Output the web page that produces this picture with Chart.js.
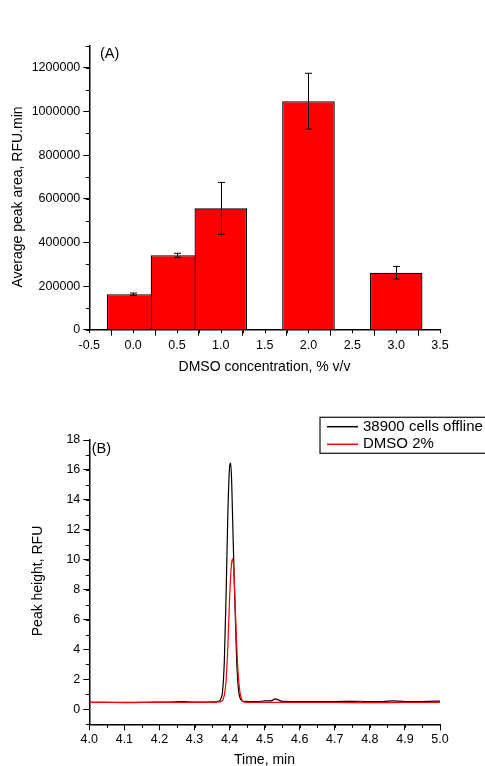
<!DOCTYPE html>
<html><head><meta charset="utf-8">
<script src="https://cdn.jsdelivr.net/npm/chart.js@4"></script>
<style>
html,body{margin:0;padding:0;background:#fff;}
#wrap{position:relative;width:485px;height:766px;overflow:hidden;background:#fff;}
canvas{position:absolute;left:0;}
#cA{top:0}
#cB{top:385px}
</style></head><body>
<div id="wrap"><canvas id="cA" width="485" height="385"></canvas><canvas id="cB" width="485" height="381"></canvas></div>
<script>
// ---------- Panel (A) data ----------
const dmsoConcentrations = [0.0, 0.5, 1.0, 2.0, 3.0];
const avgPeakAreas = [163000, 341000, 556000, 1047000, 261000];
const peakAreaErrors = [5000, 9000, 119000, 128000, 29000];
const xTicksA = [-0.5, 0, 0.5, 1.0, 1.5, 2.0, 2.5, 3.0, 3.5];
const yTicksA = [0, 200000, 400000, 600000, 800000, 1000000, 1200000];

// ---------- Panel (B) data ----------
const seriesLabels = ['38900 cells offline', 'DMSO 2%'];
const timesOffline = [4.00,4.03,4.06,4.10,4.13,4.16,4.20,4.23,4.26,4.28,4.30,4.33,4.36,4.37,4.375,4.38,4.385,4.39,4.395,4.40,4.403,4.406,4.41,4.415,4.42,4.425,4.43,4.435,4.44,4.46,4.48,4.50,4.52,4.53,4.54,4.55,4.58,4.62,4.66,4.70,4.74,4.77,4.80,4.83,4.86,4.88,4.91,4.94,4.97,5.00];
const heightsOffline = [0.47,0.46,0.46,0.46,0.47,0.47,0.48,0.49,0.52,0.50,0.49,0.49,0.50,0.55,0.7,1.2,3.2,7.6,13.0,16.2,16.45,15.2,11.5,7.3,3.4,1.4,0.75,0.58,0.53,0.52,0.52,0.56,0.58,0.70,0.62,0.53,0.52,0.51,0.52,0.52,0.53,0.54,0.51,0.51,0.56,0.55,0.52,0.52,0.53,0.55];
const timesDmso = [4.00,4.05,4.10,4.15,4.20,4.25,4.30,4.35,4.37,4.38,4.385,4.39,4.395,4.40,4.405,4.408,4.411,4.415,4.42,4.425,4.43,4.435,4.44,4.45,4.50,4.55,4.60,4.70,4.80,4.90,5.00];
const heightsDmso = [0.47,0.46,0.45,0.46,0.46,0.47,0.47,0.47,0.50,0.60,0.95,1.9,4.2,7.4,9.6,10.05,9.7,7.6,4.4,2.2,1.1,0.65,0.50,0.47,0.46,0.46,0.46,0.46,0.45,0.46,0.46];
const xTicksB = [4.0, 4.1, 4.2, 4.3, 4.4, 4.5, 4.6, 4.7, 4.8, 4.9, 5.0];
const yTicksB = [0, 2, 4, 6, 8, 10, 12, 14, 16, 18];

const FONT = "'Liberation Sans', Arial, sans-serif";
Chart.defaults.font.family = FONT;
Chart.defaults.color = '#000';

// ---------- plugins ----------
const minorTicks = {
  id: 'minorTicks',
  afterDraw(chart, args, opts) {
    const ctx = chart.ctx;
    ctx.save();
    ctx.strokeStyle = '#000';
    ctx.lineWidth = 1;
    const axes = opts.axes || {};
    for (const id of Object.keys(axes)) {
      const s = chart.scales[id];
      const step = axes[id];
      const n = Math.round((s.max - s.min) / step);
      for (let k = 0; k <= n; k++) {
        const p = Math.round(s.getPixelForValue(s.min + k * step)) + 0.5;
        ctx.beginPath();
        if (s.isHorizontal()) { ctx.moveTo(p, s.top); ctx.lineTo(p, s.top + opts.length); }
        else { ctx.moveTo(s.right, p); ctx.lineTo(s.right - opts.length, p); }
        ctx.stroke();
      }
    }
    ctx.restore();
  }
};

const texts = {
  id: 'texts',
  afterDraw(chart, args, opts) {
    const ctx = chart.ctx;
    for (const t of (opts.items || [])) {
      ctx.save();
      ctx.fillStyle = '#000';
      ctx.font = t.font;
      ctx.textAlign = t.align || 'center';
      ctx.textBaseline = 'middle';
      ctx.translate(t.x, t.y);
      if (t.rotate) ctx.rotate(t.rotate);
      ctx.fillText(t.text, 0, 0);
      ctx.restore();
    }
  }
};

const errorBars = {
  id: 'errorBars',
  afterDatasetsDraw(chart, args, opts) {
    const ctx = chart.ctx, xs = chart.scales.x, ys = chart.scales.y;
    ctx.save();
    ctx.strokeStyle = '#000';
    ctx.lineWidth = 1;
    dmsoConcentrations.forEach((c, i) => {
      const x = Math.round(xs.getPixelForValue(c)) + 0.5;
      const yt = ys.getPixelForValue(avgPeakAreas[i] + peakAreaErrors[i]);
      const yb = ys.getPixelForValue(avgPeakAreas[i] - peakAreaErrors[i]);
      const cap = opts.cap;
      ctx.beginPath();
      ctx.moveTo(x, yt); ctx.lineTo(x, yb);
      ctx.moveTo(x - cap, yt); ctx.lineTo(x + cap, yt);
      ctx.moveTo(x - cap, yb); ctx.lineTo(x + cap, yb);
      ctx.stroke();
    });
    ctx.restore();
  }
};

const boxLegend = {
  id: 'boxLegend',
  afterDraw(chart, args, opts) {
    const ctx = chart.ctx;
    ctx.save();
    ctx.strokeStyle = '#222';
    ctx.lineWidth = 1.3;
    ctx.strokeRect(opts.left, opts.top, opts.width, opts.height);
    ctx.font = opts.font;
    ctx.textBaseline = 'middle';
    ctx.textAlign = 'left';
    chart.data.datasets.forEach((ds, i) => {
      const y = opts.top + opts.rowStart + i * opts.rowGap;
      ctx.strokeStyle = ds.borderColor;
      ctx.lineWidth = 1.5;
      ctx.beginPath();
      ctx.moveTo(opts.left + 7, y); ctx.lineTo(opts.left + 38, y);
      ctx.stroke();
      ctx.fillStyle = '#000';
      ctx.fillText(ds.label, opts.left + 43, y);
    });
    ctx.restore();
  }
};

function axisCommon(extra) {
  return Object.assign({
    grid: { display: true, drawOnChartArea: false, drawTicks: true, tickLength: 6, tickColor: '#000', tickWidth: 1 },
    border: { display: true, color: '#000', width: 1.5 },
  }, extra);
}

// ---------- Chart A ----------
new Chart(document.getElementById('cA'), {
  type: 'bar',
  data: {
    datasets: [{
      data: dmsoConcentrations.map((c, i) => ({ x: c, y: avgPeakAreas[i] })),
      backgroundColor: '#ff0000',
      borderColor: '#000',
      borderWidth: 1.3,
      categoryPercentage: 1,
      barPercentage: 1.2
    }]
  },
  options: {
    responsive: false, animation: false, devicePixelRatio: 1,
    layout: { padding: { left: 0, top: 46, right: 45, bottom: 0 } },
    plugins: {
      legend: { display: false }, tooltip: { enabled: false },
      minorTicks: { axes: { x: 0.25, y: 100000 }, length: 3.5 },
      errorBars: { cap: 3.5 },
      texts: { items: [
        { text: 'Average peak area, RFU.min', x: 18, y: 197, rotate: -Math.PI / 2, font: '14px ' + FONT },
        { text: 'DMSO concentration, % v/v', x: 264.5, y: 367, font: '14px ' + FONT },
        { text: '(A)', x: 100, y: 54, align: 'left', font: '14.5px ' + FONT }
      ] }
    },
    scales: {
      x: axisCommon({
        type: 'linear', min: -0.5, max: 3.5, offset: false,
        afterBuildTicks: s => { s.ticks = xTicksA.map(v => ({ value: v })); },
        afterFit: s => { s.height = 55.3; },
        ticks: { autoSkip: false, maxRotation: 0, padding: 2, font: { size: 12.5 }, color: '#000', callback: v => Number(v).toFixed(1) }
      }),
      y: axisCommon({
        type: 'linear', min: 0, max: 1300000,
        afterBuildTicks: s => { s.ticks = yTicksA.map(v => ({ value: v })); },
        afterFit: s => { s.width = 89.3; },
        ticks: { autoSkip: false, padding: 3, font: { size: 12.5 }, color: '#000', callback: v => String(v) }
      })
    }
  },
  plugins: [minorTicks, errorBars, texts]
});

// ---------- Chart B ----------
new Chart(document.getElementById('cB'), {
  type: 'line',
  data: {
    datasets: [
      { label: seriesLabels[0], data: timesOffline.map((t, i) => ({ x: t, y: heightsOffline[i] })), borderColor: '#000000', borderWidth: 1.2, pointRadius: 0, cubicInterpolationMode: 'monotone', order: 1 },
      { label: seriesLabels[1], data: timesDmso.map((t, i) => ({ x: t, y: heightsDmso[i] })), borderColor: '#ff0000', borderWidth: 1.2, pointRadius: 0, cubicInterpolationMode: 'monotone', order: 0 }
    ]
  },
  options: {
    responsive: false, animation: false, devicePixelRatio: 1,
    layout: { padding: { left: 0, top: 55, right: 45, bottom: 0 } },
    plugins: {
      legend: { display: false }, tooltip: { enabled: false },
      minorTicks: { axes: { x: 0.05, y: 1 }, length: 3.5 },
      boxLegend: { left: 320, top: 32.3, width: 175, height: 36, rowStart: 9.4, rowGap: 17.6, font: '15px ' + FONT },
      texts: { items: [
        { text: 'Peak height, RFU', x: 38, y: 196, rotate: -Math.PI / 2, font: '14px ' + FONT },
        { text: 'Time, min', x: 264.5, y: 375, font: '14px ' + FONT },
        { text: '(B)', x: 91.7, y: 64, align: 'left', font: '14.5px ' + FONT }
      ] }
    },
    scales: {
      x: axisCommon({
        type: 'linear', min: 4.0, max: 5.0,
        afterBuildTicks: s => { s.ticks = xTicksB.map(v => ({ value: v })); },
        afterFit: s => { s.height = 41.7; },
        ticks: { autoSkip: false, maxRotation: 0, padding: 2, font: { size: 12.5 }, color: '#000', callback: v => Number(v).toFixed(1) }
      }),
      y: axisCommon({
        type: 'linear', min: -1, max: 18,
        afterBuildTicks: s => { s.ticks = yTicksB.map(v => ({ value: v })); },
        afterFit: s => { s.width = 89.3; },
        ticks: { autoSkip: false, padding: 3, font: { size: 12.5 }, color: '#000', callback: v => String(v) }
      })
    }
  },
  plugins: [minorTicks, boxLegend, texts]
});
</script>
</body></html>
